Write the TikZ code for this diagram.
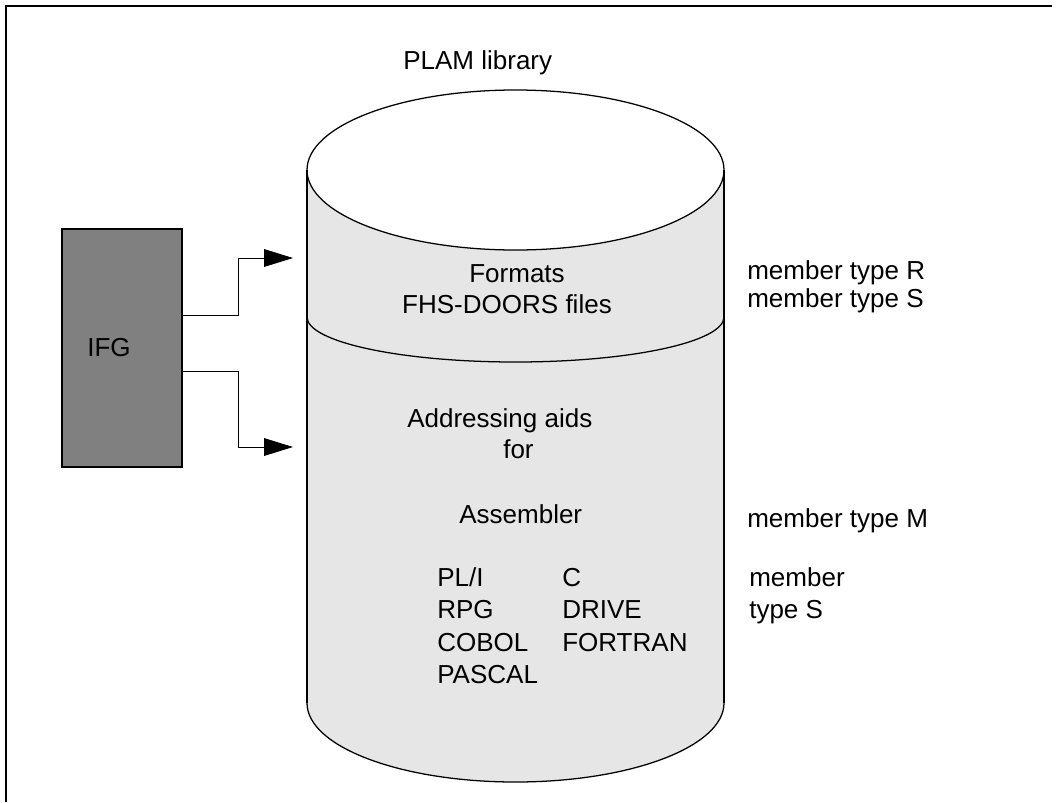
\documentclass[tikz,border=0pt]{standalone}
\usepackage{fontspec}
\setmainfont{Liberation Sans}
\usetikzlibrary{arrows.meta}
\definecolor{ifggray}{HTML}{808080}
\definecolor{libgray}{HTML}{E6E6E6}
\newcommand{\plamfont}{\fontsize{18.5}{22}\selectfont}
\begin{document}
\begin{tikzpicture}[
    x=0.025cm, y=-0.025cm,
    every node/.style={font=\plamfont, inner sep=0pt},
    txt/.style={anchor=base west},
    ctxt/.style={anchor=base},
    ifgbox/.style={
        draw,
        fill=ifggray,
        line width=0.9pt,
        minimum width=3cm,
        minimum height=5.95cm
    },
    arrow/.style={-{Triangle[length=0.72cm,width=0.44cm]}, line width=0.7pt}
]
\useasboundingbox (0,0) rectangle (1057,802);

% Frame
\draw[line width=1.4pt] (6,802) -- (6,6) -- (1052,6);

% Library cylinder
\fill[libgray] (307,170) -- (307,703)
    arc[start angle=180, end angle=0, x radius=208.5, y radius=79]
    -- (724,170) -- cycle;
\draw[line width=0.9pt, fill=white] (515.5,170) ellipse [x radius=208.5, y radius=80];
\draw[line width=0.9pt] (307,317) arc[start angle=180, end angle=0, x radius=208.5, y radius=45];
\draw[line width=0.9pt] (307,703) arc[start angle=180, end angle=0, x radius=208.5, y radius=79];
\draw[line width=1.4pt] (307,170) -- (307,703);
\draw[line width=1.4pt] (724,170) -- (724,703);

\node[txt] (plam) at (403,69) {PLAM library};

% Upper part
\node[ctxt] (formats) at (517,282) {Formats};
\node[ctxt] (fhs) at (507,313) {FHS-DOORS files};
\node[txt] (typeR) at (747,279) {member type R};
\node[txt] (typeS) at (747,307) {member type S};

% Lower part
\node[txt] (aids) at (407,427) {Addressing aids};
\node[txt] (for) at (503,458) {for};
\node[txt] (asm) at (459,523) {Assembler};
\node[txt] (typeM) at (747,527) {member type M};

\node[txt] (pli) at (437,586) {PL/I};
\node[txt] (c) at (562,586) {C};
\node[txt] (rpg) at (437,618) {RPG};
\node[txt] (drive) at (562,618) {DRIVE};
\node[txt] (cobol) at (437,651) {COBOL};
\node[txt] (fortran) at (562,651) {FORTRAN};
\node[txt] (pascal) at (437,683) {PASCAL};
\node[txt] (member) at (749,586) {member};
\node[txt] (typeSb) at (749,618) {type S};

% IFG
\node[ifgbox] (ifg) at (122,348) {};
\node (ifgtxt) at (109,348) {IFG};

\coordinate (ifgup) at (182,315);
\coordinate (ifgdown) at (182,371);
\coordinate (formatsin) at (293,258);
\coordinate (aidsin) at (293,447);

% Arrows
\draw[arrow] (ifgup) -- (238,315) -- (238,258) -- (formatsin);
\draw[arrow] (ifgdown) -- (238,371) -- (238,447) -- (aidsin);

\end{tikzpicture}
\end{document}
